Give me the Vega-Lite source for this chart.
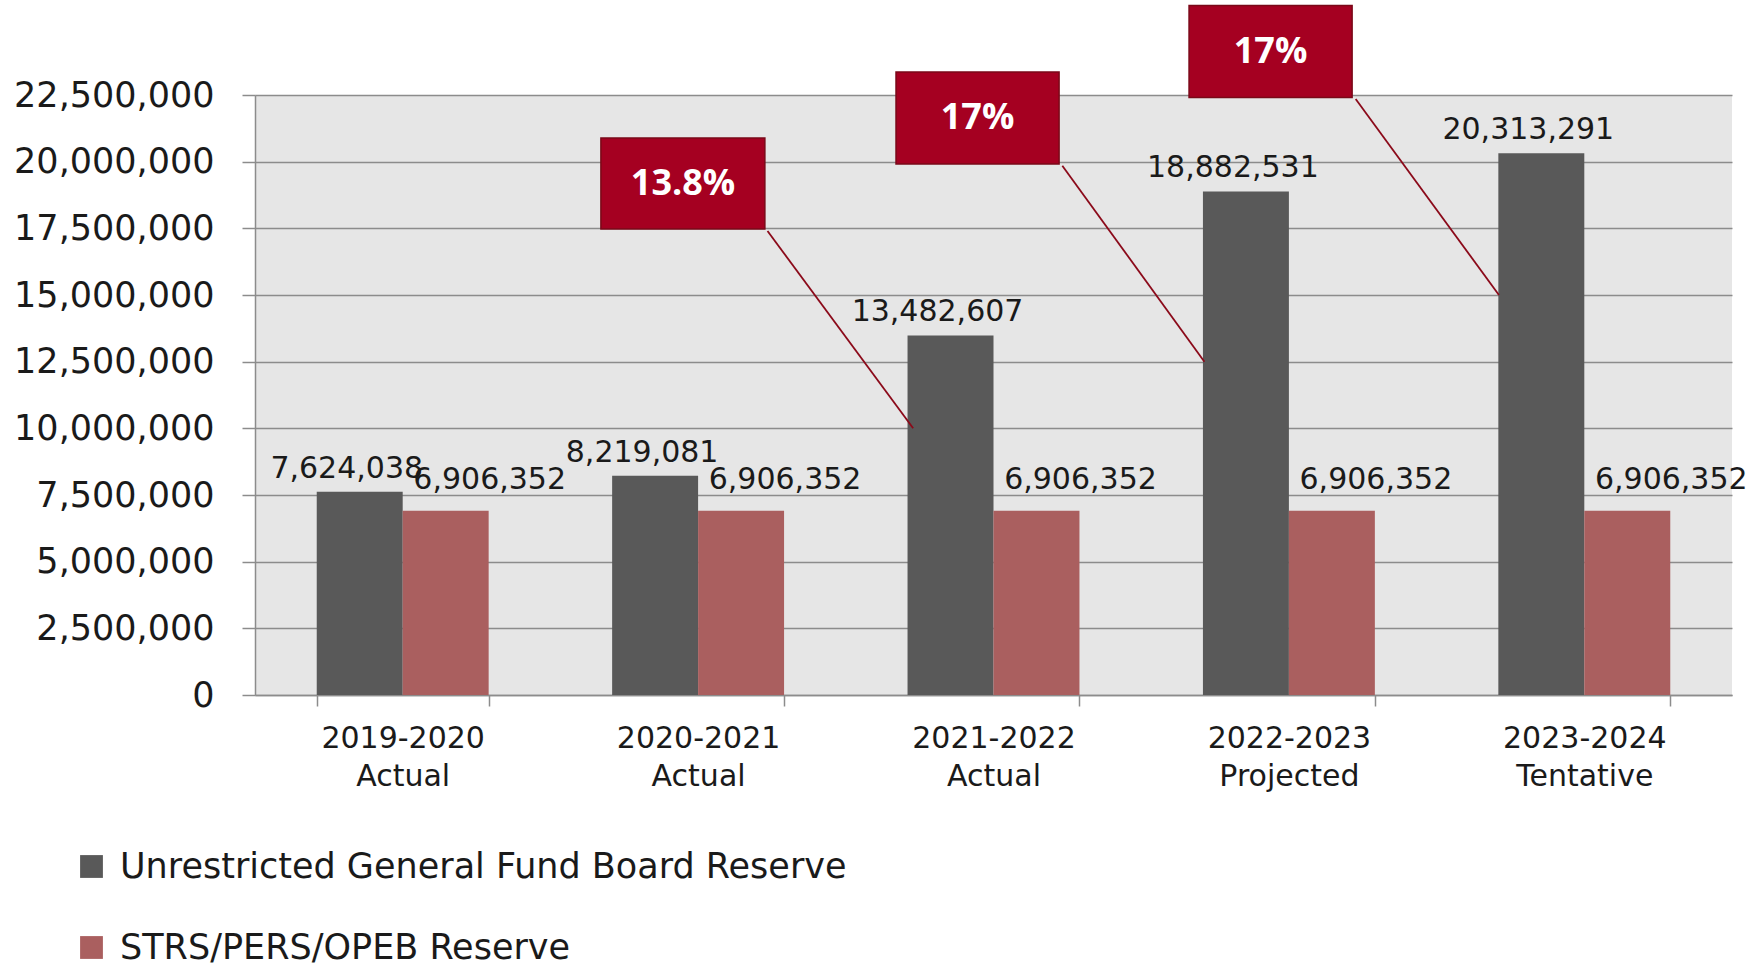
{
  "$schema": "https://vega.github.io/schema/vega-lite/v6.json",
  "autosize": {"type": "none"},
  "width": 1477,
  "height": 600,
  "padding": {"left": 255, "top": 95, "right": 25, "bottom": 271},
  "background": "#ffffff",
  "config": {
    "view": {"fill": "#e6e6e6", "stroke": null},
    "legend": {"padding": 0, "offset": 0},
    "numberFormat": ",d"
  },
  "datasets": {
    "bars": [
      {"cat": "2019-2020 Actual", "series": "Unrestricted General Fund Board Reserve", "value": 7624038},
      {"cat": "2019-2020 Actual", "series": "STRS/PERS/OPEB Reserve", "value": 6906352},
      {"cat": "2020-2021 Actual", "series": "Unrestricted General Fund Board Reserve", "value": 8219081},
      {"cat": "2020-2021 Actual", "series": "STRS/PERS/OPEB Reserve", "value": 6906352},
      {"cat": "2021-2022 Actual", "series": "Unrestricted General Fund Board Reserve", "value": 13482607},
      {"cat": "2021-2022 Actual", "series": "STRS/PERS/OPEB Reserve", "value": 6906352},
      {"cat": "2022-2023 Projected", "series": "Unrestricted General Fund Board Reserve", "value": 18882531},
      {"cat": "2022-2023 Projected", "series": "STRS/PERS/OPEB Reserve", "value": 6906352},
      {"cat": "2023-2024 Tentative", "series": "Unrestricted General Fund Board Reserve", "value": 20313291},
      {"cat": "2023-2024 Tentative", "series": "STRS/PERS/OPEB Reserve", "value": 6906352}
    ],
    "notes": [
      {"pct": "13.8%", "bx1": 1.171, "bx2": 1.726, "by1": 17475000, "by2": 20887500, "cx": 1.449, "cy": 19181250, "lx1": 1.735, "ly1": 17400000, "lx2": 2.228, "ly2": 10000000},
      {"pct": "17%", "bx1": 2.170, "bx2": 2.722, "by1": 19912500, "by2": 23362500, "cx": 2.446, "cy": 21637500, "lx1": 2.733, "ly1": 19850000, "lx2": 3.214, "ly2": 12500000},
      {"pct": "17%", "bx1": 3.162, "bx2": 3.714, "by1": 22406250, "by2": 25852500, "cx": 3.438, "cy": 24129375, "lx1": 3.726, "ly1": 22350000, "lx2": 4.211, "ly2": 15000000}
    ]
  },
  "layer": [
    {
      "data": {"name": "bars"},
      "encoding": {
        "x": {
          "field": "cat", "type": "nominal", "sort": null,
          "scale": {"paddingInner": 0.418, "paddingOuter": 0.209},
          "axis": {
            "title": null, "labelAngle": 0,
            "labelExpr": "isValid(datum.value) && datum.value != '' ? split(datum.value, ' ') : ''",
            "labelFont": "DejaVu Sans", "labelFontSize": 30, "labelLineHeight": 38,
            "labelColor": "#1a1a1a", "labelPadding": 17, "labelLimit": 0,
            "domainColor": "#8c8c8c", "domainWidth": 1.5,
            "tickColor": "#8c8c8c", "tickWidth": 1.5, "tickSize": 11, "tickBand": "extent",
            "grid": false
          }
        },
        "y": {
          "field": "value", "type": "quantitative",
          "scale": {"domain": [0, 22500000], "nice": false},
          "axis": {
            "title": null,
            "values": [0, 2500000, 5000000, 7500000, 10000000, 12500000, 15000000, 17500000, 20000000, 22500000],
            "format": ",d",
            "labelFont": "DejaVu Sans", "labelFontSize": 35, "labelColor": "#1a1a1a", "labelPadding": 28, "labelLimit": 0,
            "domainColor": "#8c8c8c", "domainWidth": 1.5,
            "tickColor": "#8c8c8c", "tickWidth": 1.5, "tickSize": 13,
            "grid": true, "gridColor": "#8c8c8c", "gridWidth": 1.5
          }
        },
        "xOffset": {
          "field": "series", "type": "nominal",
          "scale": {"domain": ["Unrestricted General Fund Board Reserve", "STRS/PERS/OPEB Reserve"], "paddingInner": 0, "paddingOuter": 0}
        }
      },
      "layer": [
        {
          "mark": {"type": "bar"},
          "encoding": {
            "color": {
              "field": "series", "type": "nominal",
              "scale": {"domain": ["Unrestricted General Fund Board Reserve", "STRS/PERS/OPEB Reserve"], "range": ["#595959", "#aa5f5f"]},
              "legend": {
                "orient": "none", "legendX": -181, "legendY": 754, "title": null,
                "direction": "vertical", "symbolType": "square", "symbolSize": 520, "symbolStrokeWidth": 0,
                "labelFont": "DejaVu Sans", "labelFontSize": 35, "labelColor": "#1a1a1a",
                "rowPadding": 45, "labelOffset": 11, "labelLimit": 0
              }
            }
          }
        },
        {
          "transform": [{"filter": "datum.series == 'Unrestricted General Fund Board Reserve'"}],
          "mark": {"type": "text", "font": "DejaVu Sans", "fontSize": 30, "color": "#1a1a1a", "baseline": "middle", "align": "center", "dx": -13, "dy": -23},
          "encoding": {"text": {"field": "value", "type": "quantitative", "format": ","}}
        },
        {
          "transform": [{"filter": "datum.series == 'STRS/PERS/OPEB Reserve'"}],
          "mark": {"type": "text", "font": "DejaVu Sans", "fontSize": 30, "color": "#1a1a1a", "baseline": "middle", "align": "center", "dx": 44, "dy": -31},
          "encoding": {"text": {"field": "value", "type": "quantitative", "format": ","}}
        }
      ]
    },
    {
      "data": {"name": "notes"},
      "encoding": {
        "y": {
          "field": "ly1", "type": "quantitative",
          "scale": {"domain": [0, 22500000], "nice": false},
          "axis": {
            "title": null,
            "values": [0, 2500000, 5000000, 7500000, 10000000, 12500000, 15000000, 17500000, 20000000, 22500000],
            "format": ",d",
            "labelFont": "DejaVu Sans", "labelFontSize": 35, "labelColor": "#1a1a1a", "labelPadding": 28, "labelLimit": 0,
            "domainColor": "#8c8c8c", "domainWidth": 1.5,
            "tickColor": "#8c8c8c", "tickWidth": 1.5, "tickSize": 13,
            "grid": true, "gridColor": "#8c8c8c", "gridWidth": 1.5
          }
        }
      },
      "layer": [
        {
          "mark": {"type": "rule", "color": "#8b0a1a", "strokeWidth": 1.8},
          "encoding": {
            "x": {"field": "lx1", "type": "quantitative", "scale": {"domain": [0, 5], "nice": false, "zero": false}, "axis": null},
            "x2": {"field": "lx2"},
            "y2": {"field": "ly2"}
          }
        },
        {
          "mark": {"type": "rect", "fill": "#a50021", "stroke": "#7a0818", "strokeWidth": 1.5},
          "encoding": {
            "x": {"field": "bx1", "type": "quantitative", "scale": {"domain": [0, 5], "nice": false, "zero": false}, "axis": null},
            "x2": {"field": "bx2"},
            "y": {"field": "by1", "type": "quantitative"},
            "y2": {"field": "by2"}
          }
        },
        {
          "mark": {"type": "text", "font": "Open Sans", "fontWeight": "bold", "fontSize": 36, "color": "#ffffff", "align": "center", "baseline": "middle"},
          "encoding": {
            "x": {"field": "cx", "type": "quantitative", "scale": {"domain": [0, 5], "nice": false, "zero": false}, "axis": null},
            "y": {"field": "cy", "type": "quantitative"},
            "text": {"field": "pct"}
          }
        }
      ]
    }
  ],
  "resolve": {"scale": {"x": "independent"}, "axis": {"x": "independent"}}
}
